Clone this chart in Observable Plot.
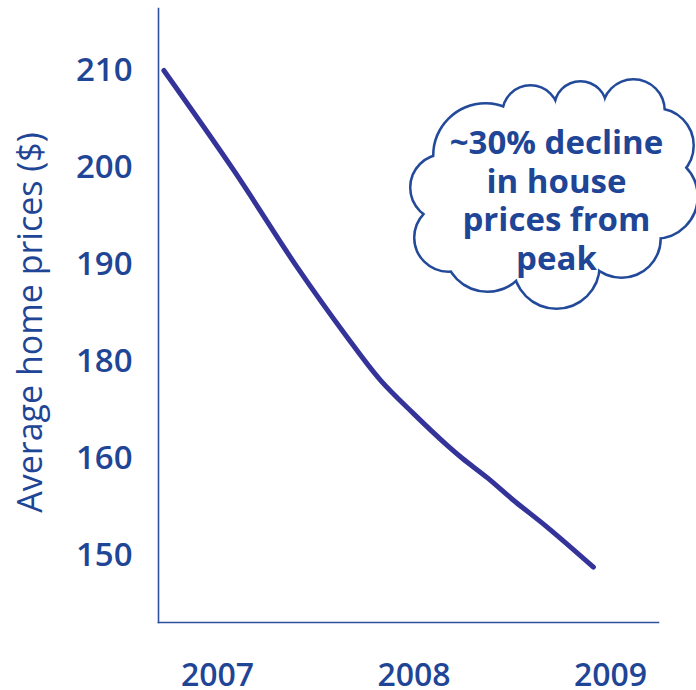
<!DOCTYPE html>
<html>
<head>
<meta charset="utf-8">
<script src="https://cdn.jsdelivr.net/npm/d3@7"></script>
<script src="https://cdn.jsdelivr.net/npm/@observablehq/plot@0.6"></script>
<style>
  html, body { margin: 0; padding: 0; background: #ffffff; }
</style>
</head>
<body>
<div id="chart"></div>
<script>
// ---- data ----
const years  = [2006.727, 2007.083, 2007.406, 2007.660, 2007.830, 2007.999, 2008.169, 2008.247, 2008.374, 2008.506, 2008.679, 2008.913];
const prices = [210, 199.7, 189.7, 182.5, 176.1, 169.2, 162.7, 160.0, 158.0, 155.7, 152.9, 148.8];

// tick labels as printed on the original axes
const yTicks = [150, 160, 180, 190, 200, 210];
const xTicks = [2007, 2008, 2009];

const yTitle = "Average home prices ($)";
const noteText = "~30% decline\nin house\nprices from\npeak";
const noteYear = 2008.725;
const notePrice = 196.7;

// ---- styling / layout ----
const textColor = "#1f4596";
const lineColor = "#343399";
const axisColor = "#2f4f9f";
const cloudColor = "#234a9a";
const font = "Open Sans, Lato, sans-serif";

// cloud outline bumps: pixel offsets around the note and radius
const cloudBumps = [
  {dx: -71, dy: -44, r: 51},
  {dx: -26, dy: -86, r: 27},
  {dx:  24, dy: -92, r: 25},
  {dx:  77, dy: -89, r: 30},
  {dx: 100, dy: -54, r: 36},
  {dx:  99, dy:  -3, r: 41},
  {dx:  65, dy:  39, r: 38},
  {dx:   0, dy:  66, r: 42},
  {dx: -69, dy:  49, r: 42},
  {dx:-108, dy:  38, r: 33},
  {dx:-113, dy: -12, r: 32}
];
// interior fill (no outline) so only the outer edge of the bumps shows
const cloudCore = [
  {dx:   0, dy:  -9, r: 80},
  {dx: -36, dy:  -4, r: 60},
  {dx:  39, dy: -19, r: 60},
  {dx: -76, dy:   6, r: 35},
  {dx:  44, dy: -69, r: 25}
];

const series = years.map((year, i) => ({year, price: prices[i]}));
const note = [{year: noteYear, price: notePrice, text: noteText}];

const cloudMarks = [];
for (const b of cloudBumps) {
  cloudMarks.push(Plot.dot(note, {x: "year", y: "price", r: b.r, dx: b.dx, dy: b.dy,
    stroke: cloudColor, strokeWidth: 5, fill: "white"}));
}
for (const b of [...cloudBumps, ...cloudCore]) {
  cloudMarks.push(Plot.dot(note, {x: "year", y: "price", r: b.r, dx: b.dx, dy: b.dy,
    fill: "white", stroke: null}));
}

const chart = Plot.plot({
  width: 696,
  height: 690,
  marginTop: 8,
  marginBottom: 68,
  marginLeft: 158,
  marginRight: 38,
  insetTop: 62,
  insetBottom: 67,
  insetLeft: 59,
  insetRight: 48,
  style: {fontFamily: font, background: "white"},
  x: {type: "linear", domain: [2007, 2009]},
  y: {type: "linear", domain: yTicks},
  marks: [
    Plot.frame({anchor: "left", stroke: axisColor, strokeWidth: 1.6}),
    Plot.frame({anchor: "bottom", stroke: axisColor, strokeWidth: 1.6}),
    Plot.axisY(yTicks, {tickSize: 0, tickPadding: 26, fontSize: 33, fontWeight: 600,
      fill: textColor, label: null, tickFormat: d => String(d)}),
    Plot.axisX(xTicks, {tickSize: 0, tickPadding: 41, fontSize: 32, fontWeight: 600,
      fill: textColor, label: null, tickFormat: d => String(d)}),
    Plot.text([yTitle], {frameAnchor: "left", dx: -127, dy: 7, rotate: -90, text: d => d,
      textAnchor: "middle", fontSize: 34, fill: textColor}),
    Plot.line(series, {x: "year", y: "price", stroke: lineColor, strokeWidth: 5,
      curve: "catmull-rom", strokeLinecap: "round", strokeLinejoin: "round"}),
    ...cloudMarks,
    Plot.text(note, {x: "year", y: "price", text: "text", fontSize: 33, fontWeight: "bold",
      lineHeight: 1.167, fill: textColor})
  ]
});

document.getElementById("chart").appendChild(chart);
</script>
</body>
</html>
